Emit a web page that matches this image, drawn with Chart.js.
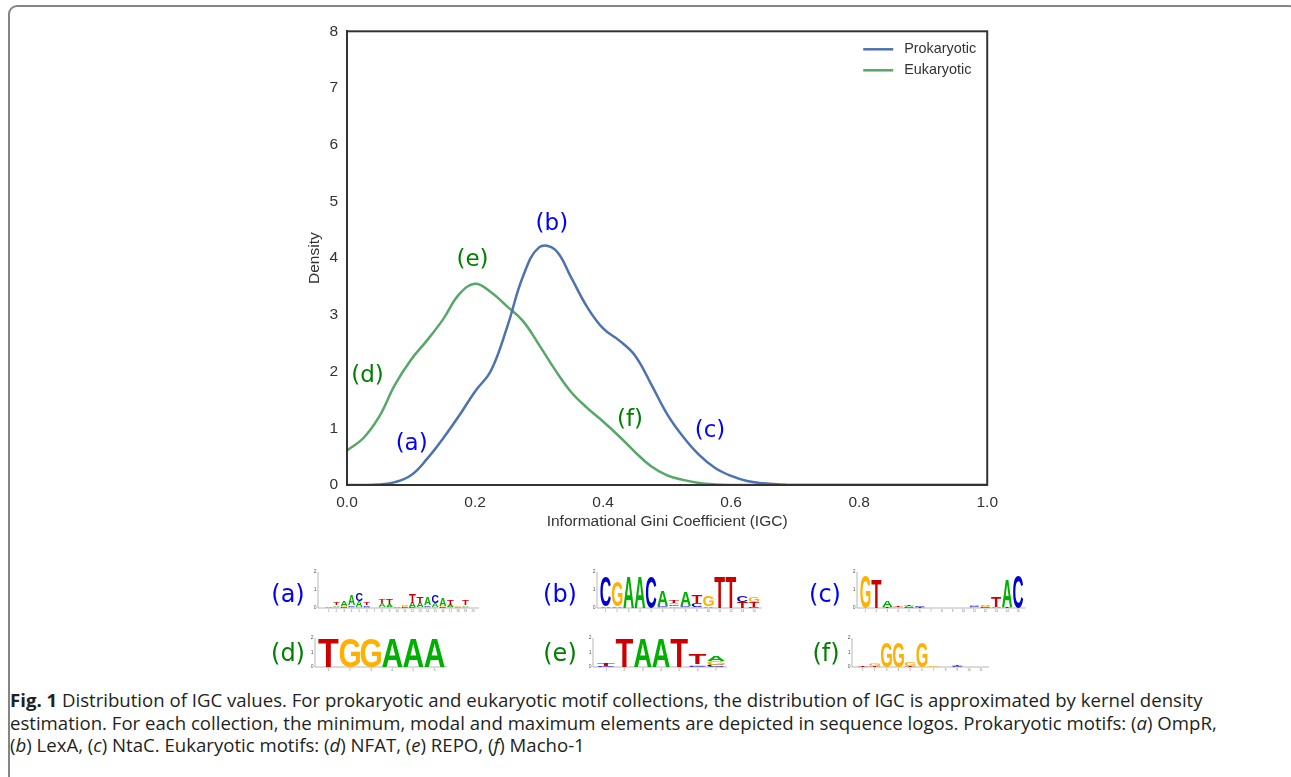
<!DOCTYPE html>
<html>
<head>
<meta charset="utf-8">
<script src="https://cdn.jsdelivr.net/npm/chart.js@4.4.0/dist/chart.umd.min.js"></script>
<style>
  body { margin: 0; background: #fff; width: 1291px; height: 777px; overflow: hidden; position: relative; }
  #frame { position: absolute; left: 8px; top: 5px; width: 1290px; height: 800px; border: 2px solid #858585; border-radius: 9px; box-sizing: border-box; }
  #plot { position: absolute; left: 300px; top: 13px; }
  #logos { position: absolute; left: 0; top: 555px; }
  .tag { position: absolute; font: 24px "DejaVu Sans"; transform: translate(-50%, -50%); white-space: nowrap; }
  .caption { position: absolute; left: 10px; top: 689px; font: 18.6px "Open Sans"; color: #231f20; line-height: 22.5px; white-space: nowrap; }
</style>
</head>
<body>
<div id="frame"></div>
<canvas id="plot" width="706" height="527"></canvas>
<canvas id="logos" width="1291" height="125"></canvas>

<div class="tag" style="left:288px;top:594px;color:#0000ff">(a)</div>
<div class="tag" style="left:560px;top:594px;color:#0000ff">(b)</div>
<div class="tag" style="left:825px;top:594px;color:#0000ff">(c)</div>
<div class="tag" style="left:288px;top:653px;color:#008000">(d)</div>
<div class="tag" style="left:560px;top:653px;color:#008000">(e)</div>
<div class="tag" style="left:826px;top:653px;color:#008000">(f)</div>

<div class="caption">
  <div><b>Fig. 1</b> Distribution of IGC values. For prokaryotic and eukaryotic motif collections, the distribution of IGC is approximated by kernel density</div>
  <div>estimation. For each collection, the minimum, modal and maximum elements are depicted in sequence logos. Prokaryotic motifs: (<i>a</i>) OmpR,</div>
  <div>(<i>b</i>) LexA, (<i>c</i>) NtaC. Eukaryotic motifs: (<i>d</i>) NFAT, (<i>e</i>) REPO, (<i>f</i>) Macho-1</div>
</div>

<script>
// kernel density estimates of IGC, sampled on a common grid
const igc = [0, 0.025, 0.05, 0.075, 0.1, 0.125, 0.15, 0.175, 0.2, 0.225, 0.25, 0.275, 0.3, 0.325, 0.35,
  0.375, 0.4, 0.425, 0.45, 0.475, 0.5, 0.525, 0.55, 0.575, 0.6, 0.625, 0.65, 0.675, 0.7, 0.8, 0.9, 1.0];
const prokaryotic = [0, 0, 0.01, 0.05, 0.17, 0.46, 0.82, 1.22, 1.65, 2.02, 2.78, 3.68, 4.19, 4.15, 3.66,
  3.14, 2.76, 2.55, 2.28, 1.78, 1.25, 0.85, 0.53, 0.3, 0.16, 0.07, 0.03, 0.01, 0, 0, 0, 0];
const eukaryotic = [0.61, 0.82, 1.2, 1.77, 2.21, 2.55, 2.92, 3.36, 3.55, 3.4, 3.15, 2.89, 2.47, 2.03, 1.64,
  1.36, 1.12, 0.86, 0.58, 0.33, 0.17, 0.09, 0.035, 0.01, 0, 0, 0, 0, 0, 0, 0, 0];
const xTicks = [0, 0.2, 0.4, 0.6, 0.8, 1.0];
const yTicks = [0, 1, 2, 3, 4, 5, 6, 7, 8];

// motif labels placed next to the curves (data coordinates)
const noteText = ['(a)', '(b)', '(c)', '(d)', '(e)', '(f)'];
const noteX = [0.101, 0.320, 0.567, 0.032, 0.196, 0.442];
const noteY = [0.73, 4.60, 0.96, 1.92, 3.96, 1.14];
const noteColor = ['#0000ff', '#0000ff', '#0000ff', '#008000', '#008000', '#008000'];

const tickFont = { family: 'Liberation Sans', size: 15.5 };

const spines = {
  id: 'spines',
  afterDraw(chart) {
    const { ctx, chartArea: { left, top, right, bottom } } = chart;
    ctx.save();
    ctx.strokeStyle = '#333';
    ctx.lineWidth = 2;
    ctx.strokeRect(left, top, right - left, bottom - top);
    ctx.restore();
  }
};

const notes = {
  id: 'notes',
  afterDatasetsDraw(chart) {
    const { ctx, scales: { x, y } } = chart;
    ctx.save();
    ctx.font = '23px "DejaVu Sans"';
    ctx.textAlign = 'center';
    ctx.textBaseline = 'middle';
    noteText.forEach((t, i) => {
      ctx.fillStyle = noteColor[i];
      ctx.fillText(t, x.getPixelForValue(noteX[i]), y.getPixelForValue(noteY[i]));
    });
    ctx.restore();
  }
};

const key = {
  id: 'key',
  afterDraw(chart) {
    const { ctx, chartArea: { top, right } } = chart;
    ctx.save();
    ctx.font = '14.4px "Liberation Sans"';
    ctx.textBaseline = 'middle';
    chart.data.datasets.forEach((ds, i) => {
      const yy = top + 18 + i * 21;
      ctx.strokeStyle = ds.borderColor;
      ctx.lineWidth = 2.5;
      ctx.beginPath();
      ctx.moveTo(right - 124, yy);
      ctx.lineTo(right - 94, yy);
      ctx.stroke();
      ctx.fillStyle = '#333';
      ctx.fillText(ds.label, right - 83, yy);
    });
    ctx.restore();
  }
};

new Chart(document.getElementById('plot').getContext('2d'), {
  type: 'line',
  data: {
    datasets: [
      {
        label: 'Prokaryotic',
        data: igc.map((v, i) => ({ x: v, y: prokaryotic[i] })),
        borderColor: '#4c72b0',
        borderWidth: 2.5,
        pointRadius: 0,
        tension: 0.4,
        fill: false
      },
      {
        label: 'Eukaryotic',
        data: igc.map((v, i) => ({ x: v, y: eukaryotic[i] })),
        borderColor: '#55a868',
        borderWidth: 2.5,
        pointRadius: 0,
        tension: 0.4,
        fill: false
      }
    ]
  },
  options: {
    responsive: false,
    animation: false,
    layout: { padding: 0 },
    scales: {
      x: {
        type: 'linear',
        min: 0,
        max: 1,
        afterFit: (scale) => { scale.height = 55; },
        afterBuildTicks: (scale) => { scale.ticks = xTicks.map(v => ({ value: v })); },
        grid: { display: false, drawTicks: false },
        border: { color: '#333', width: 2 },
        ticks: { padding: 8, color: '#333', font: tickFont, callback: (v) => v.toFixed(1) },
        title: {
          display: true,
          text: 'Informational Gini Coefficient (IGC)',
          color: '#333',
          font: tickFont,
          padding: { top: 0, bottom: 8.5 }
        }
      },
      y: {
        min: 0,
        max: 8,
        afterFit: (scale) => { scale.width = 47; },
        afterBuildTicks: (scale) => { scale.ticks = yTicks.map(v => ({ value: v })); },
        grid: { display: false, drawTicks: false },
        border: { color: '#333', width: 2 },
        ticks: { padding: 9, color: '#333', font: tickFont },
        title: {
          display: true,
          text: 'Density',
          color: '#333',
          font: tickFont,
          padding: { top: 5, bottom: 0 }
        }
      }
    },
    plugins: { legend: { display: false }, tooltip: { enabled: false } }
  },
  plugins: [spines, notes, key]
});

// sequence logos: each column is a bottom-to-top stack of [base, bits]
const logoOmpR = [
  [['A', 0.03], ['C', 0.02]],
  [['G', 0.08], ['A', 0.1], ['T', 0.12]],
  [['C', 0.05], ['G', 0.05], ['A', 0.25]],
  [['G', 0.08], ['C', 0.1], ['A', 0.55]],
  [['G', 0.05], ['A', 0.35], ['C', 0.42]],
  [['A', 0.08], ['C', 0.06], ['T', 0.12]],
  [['A', 0.02]],
  [['G', 0.05], ['A', 0.22], ['T', 0.22]],
  [['G', 0.05], ['A', 0.15], ['T', 0.3]],
  [['A', 0.03], ['G', 0.02]],
  [['C', 0.04], ['G', 0.06], ['A', 0.08]],
  [['C', 0.05], ['A', 0.25], ['T', 0.5]],
  [['G', 0.05], ['A', 0.25], ['T', 0.38]],
  [['G', 0.05], ['C', 0.1], ['A', 0.45]],
  [['G', 0.05], ['A', 0.22], ['C', 0.45]],
  [['C', 0.05], ['G', 0.08], ['A', 0.45]],
  [['G', 0.05], ['A', 0.12], ['T', 0.25]],
  [['A', 0.05], ['G', 0.04]],
  [['G', 0.05], ['A', 0.1], ['T', 0.25]],
  [['A', 0.02]]
];
const logoLexA = [
  [['A', 0.06], ['C', 1.7]],
  [['A', 0.1], ['G', 1.4]],
  [['A', 1.75]],
  [['A', 1.75]],
  [['C', 1.75]],
  [['G', 0.05], ['C', 0.08], ['A', 0.85]],
  [['G', 0.1], ['C', 0.1], ['A', 0.1], ['T', 0.15]],
  [['G', 0.05], ['C', 0.07], ['A', 0.78]],
  [['G', 0.07], ['C', 0.2], ['T', 0.45]],
  [['A', 0.08], ['G', 0.6]],
  [['T', 1.75]],
  [['T', 1.75]],
  [['T', 0.35], ['C', 0.35]],
  [['C', 0.05], ['T', 0.3], ['G', 0.25]]
];
const logoNtaC = [
  [['G', 1.83]],
  [['T', 1.55]],
  [['T', 0.05], ['A', 0.35]],
  [['G', 0.05], ['T', 0.06]],
  [['C', 0.05], ['A', 0.05], ['T', 0.06]],
  [['T', 0.04], ['C', 0.08]],
  [['A', 0.02]],
  [],
  [],
  [],
  [['G', 0.04], ['C', 0.05], ['A', 0.08]],
  [['C', 0.05], ['G', 0.05], ['A', 0.06]],
  [['A', 0.08], ['T', 0.6]],
  [['T', 0.06], ['A', 1.5]],
  [['C', 1.83]]
];
const logoNFAT = [
  [['T', 1.97]], [['G', 1.97]], [['G', 1.97]], [['A', 1.97]], [['A', 1.97]], [['A', 1.97]]
];
const logoREPO = [
  [['C', 0.06], ['T', 0.15]],
  [['T', 1.95]],
  [['A', 1.95]],
  [['A', 1.95]],
  [['T', 1.95]],
  [['C', 0.08], ['G', 0.12], ['T', 0.75]],
  [['C', 0.15], ['G', 0.25], ['A', 0.35]]
];
const logoMacho1 = [
  [['C', 0.03], ['T', 0.04]],
  [['T', 0.06], ['G', 0.2]],
  [['G', 1.75]],
  [['G', 1.75]],
  [['T', 0.06], ['G', 0.22]],
  [['G', 1.75]],
  [['T', 0.03], ['G', 0.04]],
  [['A', 0.03]],
  [['C', 0.05], ['T', 0.1]],
  [],
  []
];

const baseColor = { A: '#00b000', C: '#0000cc', G: '#ffb000', T: '#cc0000' };

const logoBoxes = [
  { cols: logoOmpR, axis: 318, start: 325, colW: 7.6, bottom: 608, full: 36 },
  { cols: logoLexA, axis: 597, start: 600, colW: 11.4, bottom: 608, full: 36 },
  { cols: logoNtaC, axis: 857, start: 860, colW: 10.9, bottom: 608, full: 36 },
  { cols: logoNFAT, axis: 315, start: 318, colW: 21.2, bottom: 667, full: 29 },
  { cols: logoREPO, axis: 593, start: 597, colW: 18.3, bottom: 667, full: 29 },
  { cols: logoMacho1, axis: 852, start: 857, colW: 11.8, bottom: 667, full: 29 }
];

const g = document.getElementById('logos').getContext('2d');
g.translate(0, -555);

// stretch one glyph so its ink box fills w x h, sitting on yBottom
function drawBase(ch, x, yBottom, w, h) {
  g.font = 'bold 100px "Liberation Sans"';
  const m = g.measureText(ch);
  const gw = m.actualBoundingBoxLeft + m.actualBoundingBoxRight;
  const gh = m.actualBoundingBoxAscent + m.actualBoundingBoxDescent;
  g.save();
  g.translate(x, yBottom);
  g.scale(w / gw, h / gh);
  g.fillStyle = baseColor[ch];
  g.fillText(ch, m.actualBoundingBoxLeft, -m.actualBoundingBoxDescent);
  g.restore();
}

logoBoxes.forEach(box => {
  // small bits axis
  g.strokeStyle = '#888';
  g.lineWidth = 0.6;
  g.beginPath();
  g.moveTo(box.axis, box.bottom - box.full);
  g.lineTo(box.axis, box.bottom);
  g.lineTo(box.start + box.cols.length * box.colW + 2, box.bottom);
  g.stroke();
  g.fillStyle = '#555';
  g.font = '5px "Liberation Sans"';
  g.textAlign = 'right';
  g.textBaseline = 'middle';
  ['0', '1', '2'].forEach((t, i) => g.fillText(t, box.axis - 1.5, box.bottom - i * box.full / 2));
  g.textAlign = 'center';
  box.cols.forEach((col, i) => {
    const x0 = box.start + i * box.colW;
    g.fillStyle = '#777';
    g.font = '3px "Liberation Sans"';
    g.fillText(String(i + 1), x0 + box.colW / 2, box.bottom + 3);
    let y = box.bottom;
    col.forEach(([ch, bits]) => {
      const h = bits / 2 * box.full;
      if (h > 0.2) drawBase(ch, x0 + 0.4, y, box.colW - 0.8, h);
      y -= h;
    });
  });
});
</script>
</body>
</html>
